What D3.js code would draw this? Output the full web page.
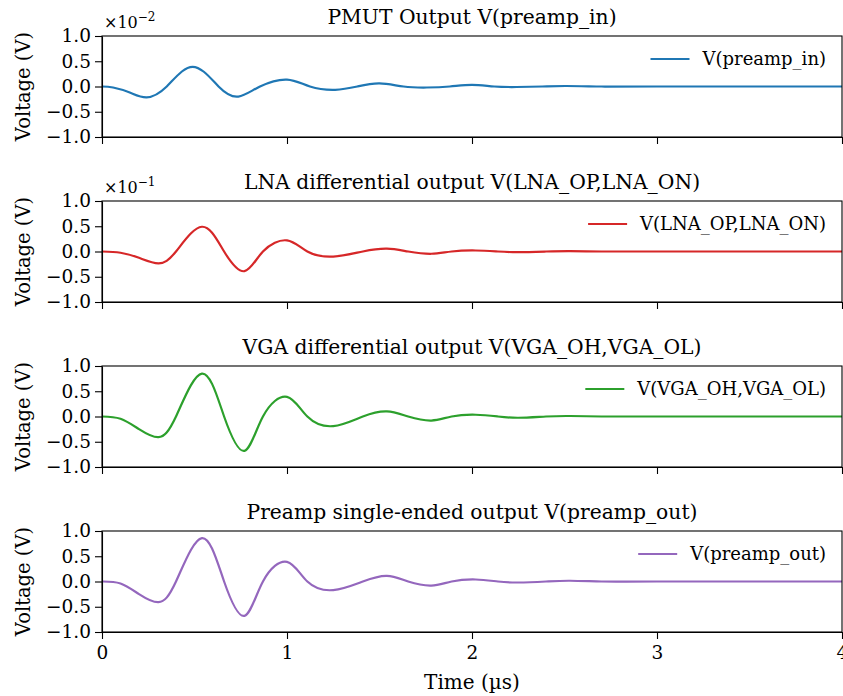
<!DOCTYPE html>
<html lang="en">
  <head>
    <meta charset="utf-8">
    <title>Preamp chain waveforms</title>
    <script src="https://cdn.jsdelivr.net/npm/d3@7"></script>
    <style>
html, body {
  margin: 0;
  padding: 0;
  background: #fff;
}
svg {
  display: block;
}
.axis path, .axis line {
  stroke: #000;
  stroke-width: 1.1px;
}
    </style>
  </head>
  <body>
    <div id="chart"></div>
    <script>

// time points (µs): extrema and zero crossings
var tPmut = [0, 0.06, 0.15, 0.241, 0.35, 0.49, 0.63, 0.737, 0.854, 1.0, 1.124, 1.26, 1.38, 1.5, 1.63, 1.755, 1.88, 2.0, 2.12, 2.24, 2.38, 2.51, 2.7, 3.0, 4.0];
var vPmut = [0, -0.0002, -0.0012, -0.00215, 0, 0.0039, 0, -0.0020, 0, 0.00137, 0, -0.00065, 0, 0.0006, 0, -0.0002, 0, 0.00033, 0, -0.0001, 0, 0.0001, 0, 0, 0];

var tAmp = [0, 0.1, 0.2, 0.305, 0.4, 0.54, 0.66, 0.77, 0.87, 1.0, 1.11, 1.25, 1.41, 1.54, 1.655, 1.78, 1.89, 2.02, 2.14, 2.25, 2.4, 2.53, 2.7, 3.0, 4.0];
var vLna = [0, -0.0025, -0.0125, -0.0234, 0, 0.049, 0, -0.039, 0, 0.022, 0, -0.010, 0, 0.0055, 0, -0.0045, 0, 0.002, 0, -0.0013, 0, 0.0008, 0, 0, 0];
var vVga = [0, -0.045, -0.25, -0.41, 0, 0.85, 0, -0.68, 0, 0.39, 0, -0.19, 0, 0.10, 0, -0.08, 0, 0.035, 0, -0.025, 0, 0.01, 0, 0, 0];
var vPreamp = [0, -0.04, -0.25, -0.41, 0, 0.86, 0, -0.68, 0, 0.39, 0, -0.17, 0, 0.11, 0, -0.08, 0, 0.04, 0, -0.02, 0, 0.015, 0, 0, 0];

var titles = ["PMUT Output V(preamp_in)", "LNA differential output V(LNA_OP,LNA_ON)",
              "VGA differential output V(VGA_OH,VGA_OL)", "Preamp single-ended output V(preamp_out)"];
var legendLabels = ["V(preamp_in)", "V(LNA_OP,LNA_ON)", "V(VGA_OH,VGA_OL)", "V(preamp_out)"];
var colors = ["#1f77b4", "#d62728", "#2ca02c", "#9467bd"];
var exponents = [-2, -1, 0, 0];
var xTicks = [0, 1, 2, 3, 4];
var yTicks = [-1.0, -0.5, 0.0, 0.5, 1.0];

var panels = [
  {t: tPmut, v: vPmut},
  {t: tAmp, v: vLna},
  {t: tAmp, v: vVga},
  {t: tAmp, v: vPreamp}
];

var width = 843, height = 696;
var left = 102, right = 842;
var top0 = 36, step = 165, ph = 101;
var FONT = "DejaVu Serif";

var svg = d3.select("#chart").append("svg")
    .attr("width", width)
    .attr("height", height)
    .attr("font-family", FONT);

var x = d3.scaleLinear().domain([0, 4]).range([left, right]);

var minus = function(s) { return s.replace("-", "\u2212"); };

function styleAxis(sel) {
  sel.attr("font-family", FONT).attr("font-size", null);
  sel.selectAll("text")
      .attr("font-family", FONT)
      .attr("font-size", 18.5)
      .attr("fill", "#000");
}

panels.forEach(function(p, i) {
  var top = top0 + i * step;
  var scale = Math.pow(10, exponents[i]);
  var y = d3.scaleLinear().domain([-scale, scale]).range([top + ph, top]);

  var g = svg.append("g");

  // titel
  g.append("text")
      .attr("x", (left + right) / 2)
      .attr("y", top - 12)
      .attr("text-anchor", "middle")
      .attr("font-size", 20.3)
      .text(titles[i]);

  // kurve
  var line = d3.line()
      .x(function(d) { return x(d[0]); })
      .y(function(d) { return y(d[1]); })
      .curve(d3.curveNatural);

  g.append("path")
      .datum(d3.zip(p.t, p.v))
      .attr("d", line)
      .attr("fill", "none")
      .attr("stroke", colors[i])
      .attr("stroke-width", 2.2);

  // y achse
  g.append("g")
      .attr("class", "axis")
      .attr("transform", "translate(" + left + ",0)")
      .call(d3.axisLeft(y)
        .tickValues(yTicks.map(function(v) { return v * scale; }))
        .tickFormat(function(v) { return minus(d3.format(".1f")(v / scale)); })
        .tickSize(7).tickSizeOuter(0).tickPadding(4))
      .call(styleAxis);

  // x achse, beschriftung nur unten
  g.append("g")
      .attr("class", "axis")
      .attr("transform", "translate(0," + (top + ph) + ")")
      .call(d3.axisBottom(x)
        .tickValues(xTicks)
        .tickFormat(i === 3 ? d3.format("d") : function() { return ""; })
        .tickSize(7).tickSizeOuter(0).tickPadding(7))
      .call(styleAxis);

  // rahmen
  g.append("rect")
      .attr("x", left).attr("y", top)
      .attr("width", right - left).attr("height", ph)
      .attr("fill", "none")
      .attr("stroke", "#000")
      .attr("stroke-width", 1.1);

  // y label
  g.append("text")
      .attr("transform", "translate(30," + (top + ph / 2) + ") rotate(-90)")
      .attr("text-anchor", "middle")
      .attr("font-size", 19.5)
      .text("Voltage (V)");

  // offset text
  if (exponents[i] !== 0) {
    var off = g.append("text")
        .attr("x", left + 2)
        .attr("y", top - 8)
        .attr("font-size", 16);
    off.append("tspan").text("\u00d710");
    off.append("tspan")
        .attr("dy", -7)
        .attr("font-size", 12)
        .text(minus(String(exponents[i])));
  }

  // legende
  var lt = g.append("text")
      .attr("x", 826)
      .attr("y", top + 23 + 6)
      .attr("text-anchor", "end")
      .attr("font-size", 18)
      .text(legendLabels[i]);
  var tx = 826 - lt.node().getComputedTextLength();
  g.append("line")
      .attr("x1", tx - 52).attr("x2", tx - 13)
      .attr("y1", top + 23).attr("y2", top + 23)
      .attr("stroke", colors[i])
      .attr("stroke-width", 2.2);
});

// x label
svg.append("text")
    .attr("x", (left + right) / 2)
    .attr("y", 689)
    .attr("text-anchor", "middle")
    .attr("font-size", 20)
    .text("Time (\u00b5s)");

    </script>
  </body>
</html>
